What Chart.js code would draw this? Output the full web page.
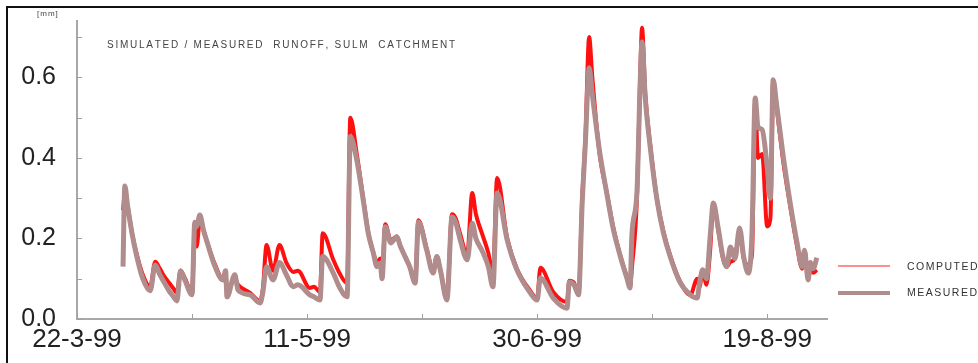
<!DOCTYPE html>
<html>
<head>
<meta charset="utf-8">
<script src="https://cdn.jsdelivr.net/npm/chart.js@4.4.1/dist/chart.umd.min.js"></script>
<style>
  body { margin: 0; background: #fff; overflow: hidden; }
  #wrap { position: relative; width: 978px; height: 363px; }
  #frame { position: absolute; left: 6px; top: 6px; width: 1100px; height: 500px;
           border-left: 2px solid #111; border-top: 2px solid #111; pointer-events: none; }
</style>
</head>
<body>
<div id="wrap">
  <canvas id="chart" width="978" height="363"></canvas>
  <div id="frame"></div>
</div>
<script>
// days counted from 22-3-99
var days = [10, 10.4, 11, 12, 13, 14.3, 15.9, 17, 18, 19,
  20, 21, 21.7, 22.5, 23.5, 25, 25.6, 26, 26.7, 27.5,
  28.3, 30, 31.7, 32.3, 32.6, 34.3, 35, 37.6, 39.8, 40.4,
  41.2, 42.6, 44, 45.5, 47, 48, 50.6, 51.5, 52.8, 53.4,
  55.7, 57, 58.7, 59.4, 60.8, 62.2, 63.3, 64.4, 65.2, 65.9,
  66.3, 67, 68.2, 69.5, 70.3, 71.3, 72.3, 73.5, 74.2, 76,
  77.4, 78.2, 79, 80.4, 81.5, 82.3, 83.3, 84.8, 85.9, 86.7,
  88, 89.4, 90.4, 91.3, 93.5, 95.6, 98.5, 100, 100.7, 103.5,
  106.5, 107, 108, 109, 109.8, 110.5, 111.3, 112, 113, 113.7,
  115.2, 116.5, 118, 119.5, 120.2, 120.6, 121.7, 122.4, 122.8, 123.5,
  124.6, 126, 127.4, 129, 131, 133.3, 134.8, 135.3, 136, 136.8,
  137.6, 138.3, 139.3, 140.4, 141.2, 142, 143, 144, 144.9, 145.9,
  146.7, 147.4, 148, 148.9, 150, 150.7, 151.3, 152, 153.5, 155,
  156.5, 157.6, 158.1, 158.9, 159.4, 160, 160.8];

var measured = [.13, .33, .28, .21, .155, .10, .07, .134, .11, .09,
  .07, .055, .045, .12, .095, .06, .24, .23, .258, .22,
  .19, .13, .097, .12, .055, .11, .072, .06, .04, .067,
  .13, .097, .14, .11, .08, .085, .06, .055, .047, .155,
  .114, .08, .055, .453, .395, .296, .213, .164, .13, .139,
  .10, .229, .189, .204, .18, .155, .13, .089, .241, .171,
  .114, .155, .12, .047, .253, .24, .196, .147, .238, .20,
  .171, .13, .08, .313, .196, .122, .065, .047, .102, .052,
  .027, .092, .085, .06, .29, .44, .624, .557, .465, .407,
  .308, .226, .159, .102, .077, .209, .316, .589, .688, .549,
  .425, .30, .216, .152, .092, .06, .052, .09, .122, .10,
  .204, .288, .229, .154, .13, .179, .15, .226, .154, .114,
  .214, .549, .477, .47, .378, .30, .594, .537, .403, .288,
  .189, .13, .171, .097, .14, .125, .152];

var computed = [.27, .31, .28, .21, .16, .11, .08, .142, .125, .105,
  .09, .075, .065, .12, .10, .065, .22, .18, .245, .22,
  .19, .135, .10, .11, .07, .10, .085, .065, .045, .075,
  .184, .12, .184, .14, .117, .12, .077, .08, .067, .213,
  .147, .115, .089, .50, .41, .30, .215, .165, .14, .15,
  .11, .235, .195, .205, .18, .155, .13, .09, .245, .175,
  .12, .155, .12, .05, .26, .25, .21, .16, .313, .26,
  .213, .164, .114, .35, .20, .125, .07, .05, .127, .067,
  .042, .095, .09, .06, .30, .45, .70, .60, .47, .40,
  .31, .23, .16, .105, .08, .127, .30, .60, .723, .56,
  .43, .30, .22, .155, .095, .06, .10, .08, .122, .085,
  .17, .285, .225, .15, .13, .142, .15, .22, .15, .135,
  .16, .54, .40, .41, .23, .25, .59, .53, .39, .28,
  .18, .125, .17, .11, .12, .115, .122];

var xTickDays = [0, 25, 50, 75, 100, 125, 150];
var xTickLabels = ['22-3-99', '', '11-5-99', '', '30-6-99', '', '19-8-99'];
var yTickValues = [0, 0.1, 0.2, 0.3, 0.4, 0.5, 0.6, 0.7];
var yTickLabels = ['0.0', '', '0.2', '', '0.4', '', '0.6', ''];

var chartTitle = 'SIMULATED / MEASURED  RUNOFF, SULM  CATCHMENT';
var unitLabel = '[mm]';
var seriesNames = ['COMPUTED', 'MEASURED'];

var redCol = '#ff1010';
var brownCol = '#b08c8c';
var fontName = '"Liberation Sans", Arial, sans-serif';

function points(vals) {
  return days.map(function (d, i) { return { x: d, y: vals[i] }; });
}

// text with extra space between letters
function spaced(ctx, txt, x, y, gap) {
  for (var i = 0; i < txt.length; i++) {
    ctx.fillText(txt[i], x, y);
    x += ctx.measureText(txt[i]).width + gap;
  }
}

// inner ticks, title, unit and legend
var decor = {
  id: 'decor',
  afterDraw: function (chart) {
    var ctx = chart.ctx, xs = chart.scales.x, ys = chart.scales.y;
    ctx.save();
    ctx.strokeStyle = '#a0a0a0';
    ctx.lineWidth = 1;
    yTickValues.forEach(function (v) {
      var p = Math.round(ys.getPixelForValue(v)) + 0.5;
      ctx.beginPath(); ctx.moveTo(xs.left, p); ctx.lineTo(xs.left + 5, p); ctx.stroke();
    });
    xTickDays.forEach(function (d) {
      var p = Math.round(xs.getPixelForValue(d)) + 0.5;
      ctx.beginPath(); ctx.moveTo(p, ys.bottom); ctx.lineTo(p, ys.bottom - 5); ctx.stroke();
    });

    ctx.fillStyle = '#444';
    ctx.textBaseline = 'middle';
    ctx.font = '10px ' + fontName;
    spaced(ctx, chartTitle, 107, 45, 1.75);
    ctx.font = '8px ' + fontName;
    spaced(ctx, unitLabel, 37, 14, 1);

    // legend
    ctx.lineWidth = 1.5;
    ctx.strokeStyle = '#ff6a6a';
    ctx.beginPath(); ctx.moveTo(838, 266); ctx.lineTo(890, 266); ctx.stroke();
    ctx.lineWidth = 4;
    ctx.strokeStyle = brownCol;
    ctx.beginPath(); ctx.moveTo(838, 293); ctx.lineTo(890, 293); ctx.stroke();
    ctx.fillStyle = '#333';
    ctx.font = '10.5px ' + fontName;
    spaced(ctx, seriesNames[0], 907, 267, 1.5);
    spaced(ctx, seriesNames[1], 907, 293, 1.5);
    ctx.restore();
  }
};

window.onload = function () {
  var ctx = document.getElementById('chart').getContext('2d');
  new Chart(ctx, {
    type: 'line',
    data: {
      datasets: [{
        label: seriesNames[1],
        data: points(measured),
        borderColor: brownCol,
        borderWidth: 5,
        order: 0
      }, {
        label: seriesNames[0],
        data: points(computed),
        borderColor: redCol,
        borderWidth: 4,
        order: 1
      }]
    },
    options: {
      responsive: false,
      animation: false,
      parsing: false,
      elements: { point: { radius: 0 }, line: { cubicInterpolationMode: 'monotone', borderJoinStyle: 'round' } },
      layout: { padding: { left: 0, right: 151, top: 21, bottom: 0 } },
      plugins: { legend: { display: false }, tooltip: { enabled: false } },
      scales: {
        x: {
          type: 'linear',
          min: 0,
          max: 163,
          afterFit: function (s) { s.height = 44; s.paddingLeft = 0; s.paddingRight = 0; },
          afterBuildTicks: function (s) { s.ticks = xTickDays.map(function (v) { return { value: v }; }); },
          grid: { display: false },
          border: { display: true, color: '#a8a8a8', width: 2 },
          ticks: {
            autoSkip: false,
            maxRotation: 0,
            padding: -3,
            color: '#222',
            font: { family: fontName, size: 26 },
            callback: function (v, i) { return xTickLabels[i]; }
          }
        },
        y: {
          min: 0,
          max: 0.74,
          afterFit: function (s) { s.width = 77; s.paddingTop = 0; s.paddingBottom = 0; },
          afterBuildTicks: function (s) { s.ticks = yTickValues.map(function (v) { return { value: v }; }); },
          grid: { display: false },
          border: { display: true, color: '#a8a8a8', width: 2 },
          ticks: {
            padding: 13,
            color: '#222',
            font: { family: fontName, size: 25 },
            callback: function (v, i) { return yTickLabels[i]; }
          }
        }
      }
    },
    plugins: [decor]
  });
};
</script>
</body>
</html>
